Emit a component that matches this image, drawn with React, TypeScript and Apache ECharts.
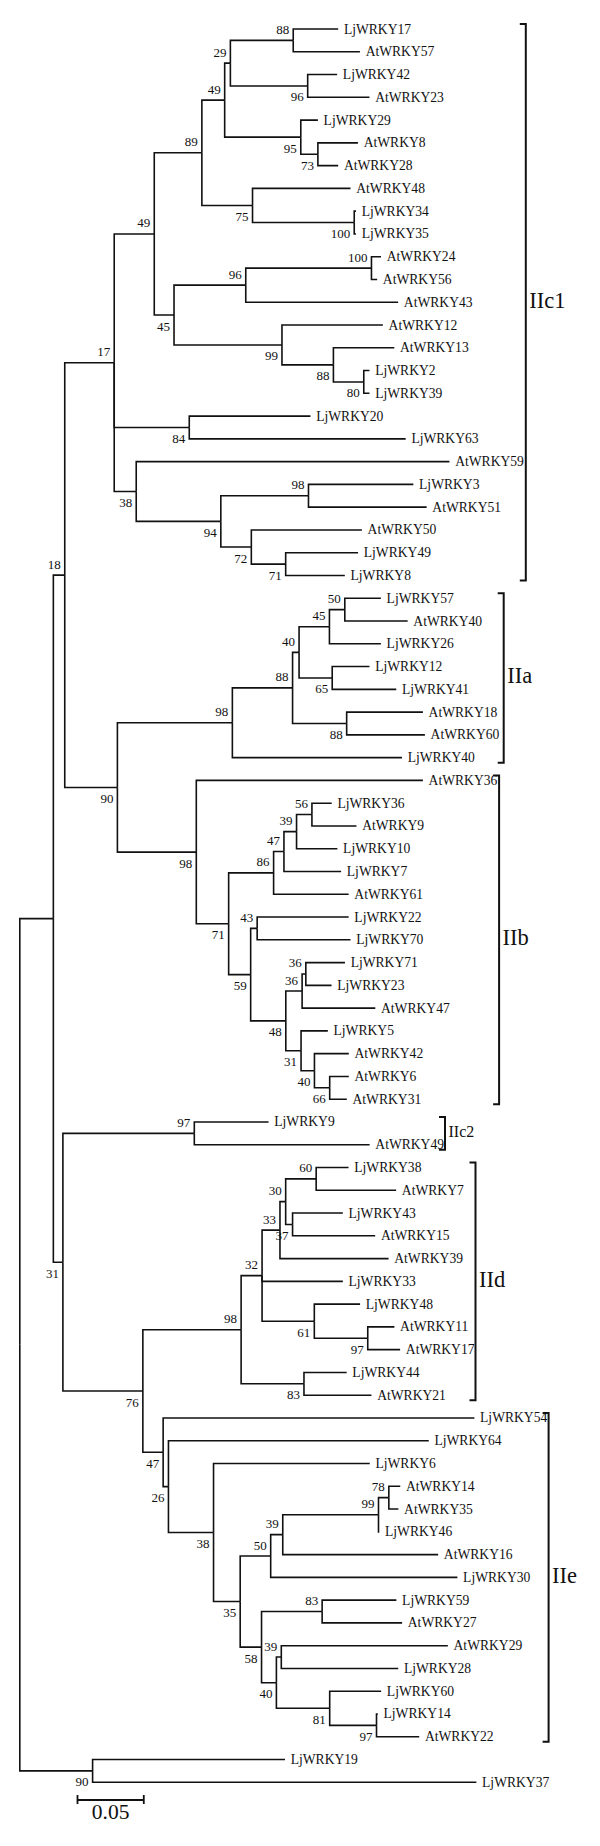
import { useEffect, useRef } from "react";
import * as echarts from "echarts";

type NodeRow = [string, string | null, number, number | null]; // id, parent, branch length, bootstrap
type LeafRow = [string, string, number]; // name, parent, branch length

// ---------- DATA ----------
const backboneNodes: NodeRow[] = [
  ["root", null, 0, null],
  ["ingroup", "root", 0.0253, null],
  ["og90", "root", 0.0549, 90],
  ["n18", "ingroup", 0.0086, 18],
  ["n31r", "ingroup", 0.0072, 31],
  ["n17", "n18", 0.0373, 17],
  ["n90", "n18", 0.0397, 90],
];

const nodesIIc1: NodeRow[] = [
  ["n49a", "n17", 0.0302, 49],
  ["n84", "n17", 0.0566, 84],
  ["n38", "n17", 0.0166, 38],
  ["n89", "n49a", 0.0359, 89],
  ["n45a", "n49a", 0.0149, 45],
  ["n49b", "n89", 0.0172, 49],
  ["n75", "n89", 0.0382, 75],
  ["n29", "n49b", 0.0043, 29],
  ["n95", "n49b", 0.0574, 95],
  ["n88a", "n29", 0.0474, 88],
  ["n96a", "n29", 0.0583, 96],
  ["n73", "n95", 0.0129, 73],
  ["n100a", "n75", 0.0767, 100],
  ["n96b", "n45a", 0.0541, 96],
  ["n99a", "n45a", 0.0814, 99],
  ["n100b", "n96b", 0.0948, 100],
  ["n88b", "n99a", 0.0388, 88],
  ["n80", "n88b", 0.0229, 80],
  ["n94", "n38", 0.0638, 94],
  ["n98a", "n94", 0.0661, 98],
  ["n72", "n94", 0.023, 72],
  ["n71a", "n72", 0.0259, 71],
];

const nodesIIab: NodeRow[] = [
  ["n98IIa", "n90", 0.0867, 98],
  ["n88c", "n98IIa", 0.0454, 88],
  ["n40a", "n88c", 0.0049, 40],
  ["n45c", "n40a", 0.0229, 45],
  ["n50a", "n45c", 0.0116, 50],
  ["n65", "n40a", 0.025, 65],
  ["n88d", "n88c", 0.0408, 88],
  ["n98IIb", "n90", 0.0595, 98],
  ["n71b", "n98IIb", 0.0244, 71],
  ["n86", "n71b", 0.0339, 86],
  ["n47a", "n86", 0.0078, 47],
  ["n39a", "n47a", 0.0095, 39],
  ["n56", "n39a", 0.0116, 56],
  ["n59", "n71b", 0.0166, 59],
  ["n43", "n59", 0.0049, 43],
  ["n48", "n59", 0.0265, 48],
  ["n36a", "n48", 0.0123, 36],
  ["n36b", "n36a", 0.0028, 36],
  ["n31b", "n48", 0.0115, 31],
  ["n40b", "n31b", 0.0101, 40],
  ["n66", "n40b", 0.0115, 66],
];

const nodesIIcde: NodeRow[] = [
  ["n97a", "n31r", 0.0991, 97],
  ["n76", "n31r", 0.0603, 76],
  ["n98e", "n76", 0.0741, 98],
  ["n32", "n98e", 0.0158, 32],
  ["n33", "n32", 0.0135, 33],
  ["n30", "n33", 0.0043, 30],
  ["n60", "n30", 0.023, 60],
  ["n37", "n30", 0.0052, 37],
  ["n61", "n32", 0.0394, 61],
  ["n97e", "n61", 0.0403, 97],
  ["n83a", "n98e", 0.0474, 83],
  ["n47e", "n76", 0.0153, 47],
  ["n26", "n47e", 0.004, 26],
  ["n38e", "n26", 0.034, 38],
  ["n35", "n38e", 0.0201, 35],
  ["n50e", "n35", 0.023, 50],
  ["n39e", "n50e", 0.0091, 39],
  ["n99e", "n39e", 0.0722, 99],
  ["n78", "n99e", 0.0078, 78],
  ["n58", "n35", 0.0161, 58],
  ["n83e", "n58", 0.0457, 83],
  ["n40f", "n58", 0.0112, 40],
  ["n39f", "n40f", 0.0037, 39],
  ["n81", "n40f", 0.0402, 81],
  ["n97f", "n81", 0.0353, 97],
];

const leavesIIc1: LeafRow[] = [
  ["LjWRKY17", "n88a", 0.0339],
  ["AtWRKY57", "n88a", 0.0503],
  ["LjWRKY42", "n96a", 0.0222],
  ["AtWRKY23", "n96a", 0.0466],
  ["LjWRKY29", "n95", 0.0129],
  ["AtWRKY8", "n73", 0.0302],
  ["AtWRKY28", "n73", 0.0153],
  ["AtWRKY48", "n75", 0.0739],
  ["LjWRKY34", "n100a", 0.0013],
  ["LjWRKY35", "n100a", 0.0013],
  ["AtWRKY24", "n100b", 0.0072],
  ["AtWRKY56", "n100b", 0.0043],
  ["AtWRKY43", "n96b", 0.1149],
  ["AtWRKY12", "n99a", 0.0761],
  ["AtWRKY13", "n88b", 0.0459],
  ["LjWRKY2", "n80", 0.0043],
  ["LjWRKY39", "n80", 0.0043],
  ["LjWRKY20", "n84", 0.0914],
  ["LjWRKY63", "n84", 0.1632],
  ["AtWRKY59", "n38", 0.2362],
  ["LjWRKY3", "n98a", 0.0791],
  ["AtWRKY51", "n98a", 0.0891],
  ["AtWRKY50", "n72", 0.0834],
  ["LjWRKY49", "n71a", 0.0546],
  ["LjWRKY8", "n71a", 0.0446],
];

const leavesIIa: LeafRow[] = [
  ["LjWRKY57", "n50a", 0.0272],
  ["AtWRKY40", "n50a", 0.0474],
  ["LjWRKY26", "n45c", 0.0388],
  ["LjWRKY12", "n65", 0.0281],
  ["LjWRKY41", "n65", 0.0483],
  ["AtWRKY18", "n88d", 0.0575],
  ["AtWRKY60", "n88d", 0.059],
  ["LjWRKY40", "n98IIa", 0.1279],
];

const leavesIIb: LeafRow[] = [
  ["AtWRKY36", "n98IIb", 0.1709],
  ["LjWRKY36", "n56", 0.0149],
  ["AtWRKY9", "n56", 0.0336],
  ["LjWRKY10", "n39a", 0.0308],
  ["LjWRKY7", "n47a", 0.0431],
  ["AtWRKY61", "n86", 0.0566],
  ["LjWRKY22", "n43", 0.069],
  ["LjWRKY70", "n43", 0.0704],
  ["LjWRKY71", "n36b", 0.0295],
  ["LjWRKY23", "n36b", 0.0194],
  ["AtWRKY47", "n36a", 0.0552],
  ["LjWRKY5", "n31b", 0.0202],
  ["AtWRKY42", "n40b", 0.0259],
  ["AtWRKY6", "n66", 0.0144],
  ["AtWRKY31", "n66", 0.0129],
];

const leavesIIc2: LeafRow[] = [
  ["LjWRKY9", "n97a", 0.056],
  ["AtWRKY49", "n97a", 0.1322],
];

const leavesIId: LeafRow[] = [
  ["LjWRKY38", "n60", 0.0244],
  ["AtWRKY7", "n60", 0.0603],
  ["LjWRKY43", "n37", 0.0379],
  ["AtWRKY15", "n37", 0.0623],
  ["AtWRKY39", "n33", 0.0819],
  ["LjWRKY33", "n32", 0.0609],
  ["LjWRKY48", "n61", 0.0345],
  ["AtWRKY11", "n97e", 0.0201],
  ["AtWRKY17", "n97e", 0.0244],
  ["LjWRKY44", "n83a", 0.0322],
  ["AtWRKY21", "n83a", 0.0509],
];

const leavesIIe: LeafRow[] = [
  ["LjWRKY54", "n47e", 0.2347],
  ["LjWRKY64", "n26", 0.1963],
  ["LjWRKY6", "n38e", 0.1178],
  ["AtWRKY14", "n78", 0.0086],
  ["AtWRKY35", "n78", 0.0072],
  ["LjWRKY46", "n99e", 0.0006],
  ["AtWRKY16", "n39e", 0.1172],
  ["LjWRKY30", "n50e", 0.1408],
  ["LjWRKY59", "n83e", 0.056],
  ["AtWRKY27", "n83e", 0.0603],
  ["AtWRKY29", "n39f", 0.1256],
  ["LjWRKY28", "n39f", 0.0882],
  ["LjWRKY60", "n81", 0.0388],
  ["LjWRKY14", "n97f", 0.001],
  ["AtWRKY22", "n97f", 0.0322],
];

const leavesOutgroup: LeafRow[] = [
  ["LjWRKY19", "og90", 0.1451],
  ["LjWRKY37", "og90", 0.2894],
];

const clades: [string, string, string][] = [
  ["IIc1", "LjWRKY17", "LjWRKY8"],
  ["IIa", "LjWRKY57", "LjWRKY40"],
  ["IIb", "AtWRKY36", "AtWRKY31"],
  ["IIc2", "LjWRKY9", "AtWRKY49"],
  ["IId", "LjWRKY38", "AtWRKY21"],
  ["IIe", "LjWRKY54", "AtWRKY22"],
];

const scaleBarLength = 0.05;
const scaleBarLabel = "0.05";

// ---------- STYLE ----------
const INK = "#111";
const SERIF = '"Liberation Serif", "Times New Roman", serif';
const bracketXpx: Record<string, number> = { IIc1: 525.8, IIa: 503.7, IIb: 499.1, IIc2: 445, IId: 475.5, IIe: 548.6 };
const cladeFontPx: Record<string, number> = { IIc1: 22.5, IIa: 22.5, IIb: 22.5, IIc2: 16, IId: 22.5, IIe: 22.5 };
const scaleBarStartX = 0.0435;
const LEAF_FONT = 13.6;
const BS_FONT = 13;

const allNodes: NodeRow[] = [...backboneNodes, ...nodesIIc1, ...nodesIIab, ...nodesIIcde];
const allLeaves: LeafRow[] = [
  ...leavesIIc1, ...leavesIIa, ...leavesIIb, ...leavesIIc2, ...leavesIId, ...leavesIIe, ...leavesOutgroup,
];

type P = { x: number; y: number; parent: string | null; bs: number | null };

function buildLayout() {
  const pos: Record<string, P> = {};
  const children: Record<string, string[]> = {};
  for (const [id, parent, len, bs] of allNodes) {
    const px = parent ? pos[parent].x : 0;
    pos[id] = { x: px + len, y: 0, parent, bs };
    if (parent) (children[parent] = children[parent] || []).push(id);
  }
  allLeaves.forEach(([name, parent, len], i) => {
    pos[name] = { x: pos[parent].x + len, y: i, parent, bs: null };
    (children[parent] = children[parent] || []).push(name);
  });
  for (let k = allNodes.length - 1; k >= 0; k--) {
    const id = allNodes[k][0];
    const ys = children[id].map((c) => pos[c].y);
    pos[id].y = (Math.min(...ys) + Math.max(...ys)) / 2;
  }
  return { pos, children };
}

function txt(x: number, y: number, text: string, size: number, align: string, valign = "middle") {
  return {
    type: "text",
    x,
    y,
    silent: true,
    style: {
      text,
      x: 0,
      y: 0,
      fill: INK,
      fontSize: size,
      fontFamily: SERIF,
      font: `${size}px ${SERIF}`,
      align,
      verticalAlign: valign,
      textAlign: align,
      textVerticalAlign: valign,
    },
  };
}

export default function App() {
  const ref = useRef<HTMLDivElement>(null);
  useEffect(() => {
    document.body.style.margin = "0";
    const el = ref.current!;
    const chart = echarts.init(el, null, { renderer: "svg" });
    const { pos, children } = buildLayout();
    const internalIds = allNodes.map((n) => n[0]);
    const bsIds = allNodes.filter((n) => n[3] !== null).map((n) => n[0]);
    const lineStyle = { stroke: INK, lineWidth: 1.6, fill: "none", lineJoin: "miter", lineCap: "butt" };

    chart.setOption({
      animation: false,
      backgroundColor: "#fff",
      grid: { left: 19.8, right: 10, top: 29, bottom: 63.7 },
      xAxis: { type: "value", min: 0, max: 0.43, show: false },
      yAxis: { type: "value", min: 0, max: allLeaves.length - 1, inverse: true, show: false },
      series: [
        {
          type: "custom",
          silent: true,
          data: internalIds.map((id) => [pos[id].x, pos[id].y]),
          renderItem: (params: any, api: any) => {
            const id = internalIds[params.dataIndex];
            const p = api.coord([pos[id].x, pos[id].y]);
            const kids = children[id].map((c) => {
              const cp = api.coord([pos[c].x, pos[c].y]);
              return {
                type: "polyline",
                shape: { points: [[p[0], p[1]], [p[0], cp[1]], [cp[0], cp[1]]] },
                style: lineStyle,
              };
            });
            return { type: "group", children: kids };
          },
        },
        {
          type: "custom",
          silent: true,
          data: allLeaves.map(([n]) => [pos[n].x, pos[n].y]),
          renderItem: (params: any, api: any) => {
            const name = allLeaves[params.dataIndex][0];
            const p = api.coord([pos[name].x, pos[name].y]);
            return txt(p[0] + 5.7, p[1], name, LEAF_FONT, "left");
          },
        },
        {
          type: "custom",
          silent: true,
          data: bsIds.map((id) => [pos[id].x, pos[id].y]),
          renderItem: (params: any, api: any) => {
            const id = bsIds[params.dataIndex];
            const node = pos[id];
            const p = api.coord([node.x, node.y]);
            const above = node.parent ? node.y < pos[node.parent].y : false;
            return txt(p[0] - 4, p[1] + (above ? -11 : 11), String(node.bs), BS_FONT, "right");
          },
        },
        {
          type: "custom",
          silent: true,
          data: clades.map(([, a]) => [pos[a].x, pos[a].y]),
          renderItem: (params: any, api: any) => {
            const [label, first, last] = clades[params.dataIndex];
            const top = api.coord([0, pos[first].y])[1] - 5;
            const bottom = api.coord([0, pos[last].y])[1] + 5;
            const bx = bracketXpx[label];
            return {
              type: "group",
              children: [
                {
                  type: "polyline",
                  shape: { points: [[bx - 6, top], [bx, top], [bx, bottom], [bx - 6, bottom]] },
                  style: { ...lineStyle, lineWidth: 2 },
                },
                txt(bx + 3.5, (top + bottom) / 2 - 2, label, cladeFontPx[label], "left"),
              ],
            };
          },
        },
        {
          type: "custom",
          silent: true,
          data: [[scaleBarStartX, allLeaves.length - 1]],
          renderItem: (_params: any, api: any) => {
            const a = api.coord([scaleBarStartX, allLeaves.length - 1]);
            const b = api.coord([scaleBarStartX + scaleBarLength, allLeaves.length - 1]);
            const y = a[1] + 17.7;
            const s = { ...lineStyle, lineWidth: 1.8 };
            return {
              type: "group",
              children: [
                { type: "line", shape: { x1: a[0], y1: y, x2: b[0], y2: y }, style: s },
                { type: "line", shape: { x1: a[0], y1: y - 5, x2: a[0], y2: y + 4 }, style: s },
                { type: "line", shape: { x1: b[0], y1: y - 5, x2: b[0], y2: y + 4 }, style: s },
                txt((a[0] + b[0]) / 2, y + 12, scaleBarLabel, 21.5, "center"),
              ],
            };
          },
        },
      ],
    });
    return () => chart.dispose();
  }, []);
  return <div ref={ref} style={{ width: 600, height: 1846, background: "#fff" }} />;
}
